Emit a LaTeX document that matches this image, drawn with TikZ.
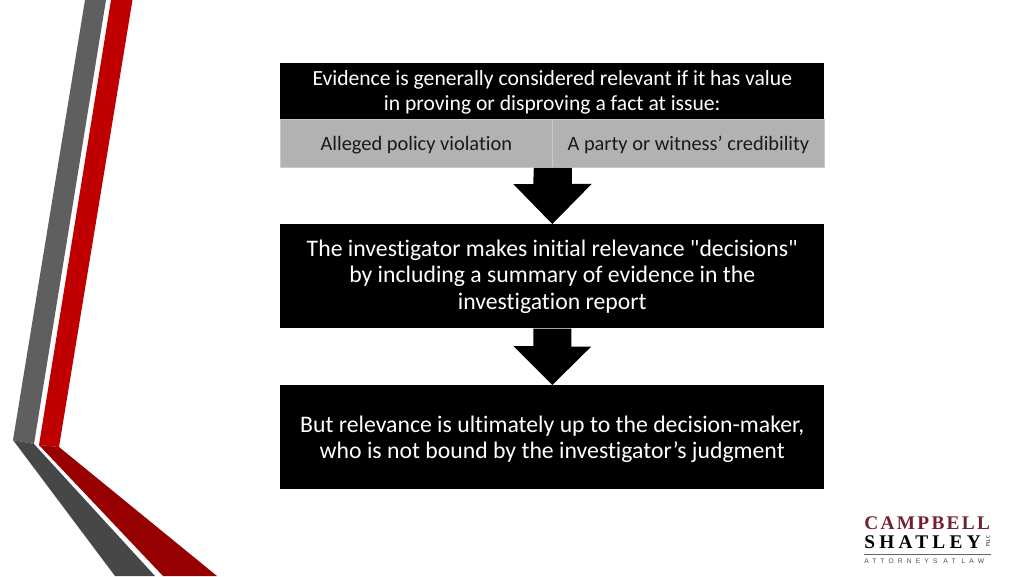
\documentclass[tikz,border=0pt]{standalone}
\usepackage{fontspec}
\newfontfamily\bodyfont[Ligatures=NoCommon]{Carlito}
\newfontfamily\logoserif[LetterSpace=12]{Liberation Serif}
\newfontfamily\logoserifb[LetterSpace=22]{Liberation Serif}
\newfontfamily\logosans[LetterSpace=62]{Liberation Sans}
\usetikzlibrary{calc}
\definecolor{stripegray}{HTML}{5F5F5F}
\definecolor{stripedark}{HTML}{474747}
\definecolor{stripered}{HTML}{C00000}
\definecolor{stripedarkred}{HTML}{960000}
\definecolor{panelgray}{HTML}{B2B2B2}
\definecolor{panelline}{HTML}{C9C9C9}
\definecolor{logored}{HTML}{74202F}
\tikzset{
 x=0.75pt,y=-0.75pt,
 blackbox/.style={fill=black,text=white,minimum width=408pt,inner sep=0pt,align=center,anchor=north west,font=\bodyfont\fontsize{17.8}{19.6}\selectfont},
 headbox/.style={blackbox,font=\bodyfont\fontsize{16.2}{18.6}\selectfont},
 graybox/.style={fill=panelgray,text=black!90,draw=panelline,line width=0.6pt,minimum width=204pt,minimum height=36pt,inner sep=0pt,anchor=north west,font=\bodyfont\fontsize{15.3}{18}\selectfont},
 flowarrow/.style={fill=black},
 logotext/.style={inner sep=0pt,anchor=west},
}
\begin{document}
\begin{tikzpicture}
\useasboundingbox (0,0) rectangle (1024,576);
% stripes
\fill[stripegray] (85,0) -- (106,0) -- (34,444) -- (13,440) -- cycle;
\fill[stripered] (111,0) -- (132.5,0) -- (59,447) -- (39,445) -- cycle;
\fill[stripedark] (13,440) -- (34,444) -- (155,576) -- (115,576) -- cycle;
\fill[stripedarkred] (39,445) -- (59,447) -- (217,576) -- (163,576) -- cycle;
% panels
\node[headbox,minimum height=42pt,text depth=1.5pt] (head) at (280,63) {Evidence is generally considered relevant if it has value\\in proving or disproving a fact at issue:};
\node[graybox] (left) at (280,119) {\rule{0pt}{13pt}Alleged policy violation};
\node[graybox] (right) at (552,119) {\rule{0pt}{13pt}A party or witness’ credibility};
\node[blackbox,minimum height=78pt] (mid) at (280,224) {\rule{0pt}{13pt}The investigator makes initial relevance "decisions"\\by including a summary of evidence in the\\investigation report};
\node[blackbox,minimum height=78pt] (last) at (280,385) {\rule{0pt}{15pt}But relevance is ultimately up to the decision-maker,\\who is not bound by the investigator’s judgment};
% arrows
\path[flowarrow] (left.south east) ++(-19,0) -- ++(38,0) -- ++(0,16) -- ++(20,0) -- (mid.north) -- ($(mid.north)+(-39,-40)$) -- ++(20,0) -- cycle;
\path[flowarrow] (mid.south) ++(-19,0) -- ++(38,0) -- ++(0,18) -- ++(20,0) -- (last.north) -- ($(last.north)+(-39,-39)$) -- ++(20,0) -- cycle;
% logo
\node[logotext,text=logored,font=\logoserif\bfseries\fontsize{14.5}{15}\selectfont] (lc) at (864,523) {CAMPBELL};
\node[logotext,text=black,font=\logoserifb\bfseries\fontsize{14.5}{15}\selectfont] (ls) at (864,542) {SHATLEY};
\node[inner sep=0pt,rotate=90,text=black,font=\bodyfont\fontsize{4}{4}\selectfont] (lp) at (988,541) {PLLC};
\coordinate (ra) at (864,554.5);
\coordinate (rb) at (991,554.5);
\draw[black!60,line width=0.6pt] (ra) -- (rb);
\node[logotext,text=black!70,font=\logosans\fontsize{5}{6}\selectfont] (la) at (864,561.5) {ATTORNEYS AT LAW};
\end{tikzpicture}
\end{document}
